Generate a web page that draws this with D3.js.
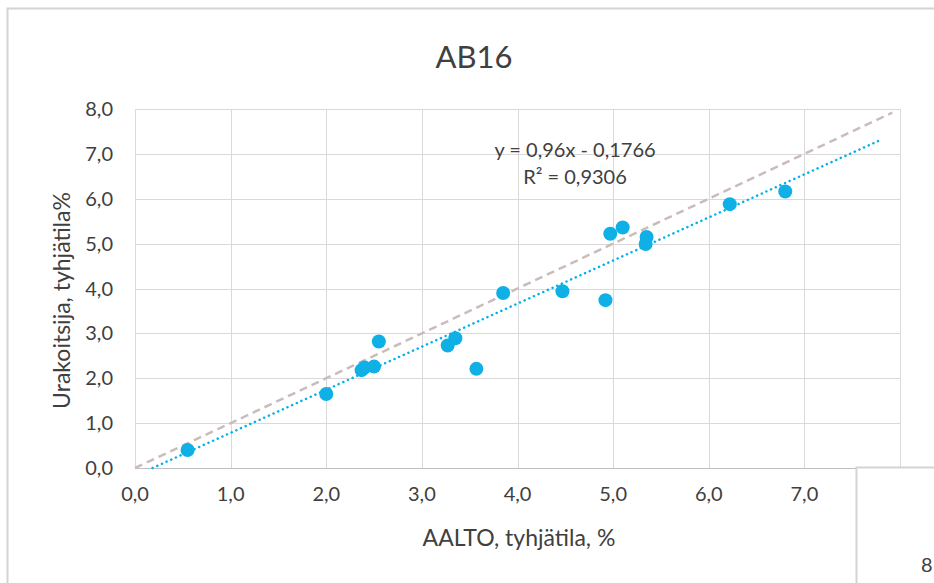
<!DOCTYPE html>
<html>
<head>
<meta charset="utf-8">
<script src="https://cdn.jsdelivr.net/npm/d3@7"></script>
<style>
  body { margin: 0; background: #fff; }
  svg text { font-family: Lato, "Open Sans", sans-serif; fill: #404040; }
</style>
</head>
<body>
<div id="chart"></div>
<script>
// measured points (AALTO vs urakoitsija)
const aalto = [0.55, 2.0, 2.37, 2.4, 2.5, 2.55, 3.27, 3.35, 3.57, 3.85, 4.47, 4.92, 4.97, 5.1, 5.35, 5.34, 6.22, 6.8]
const urakoitsija = [0.4, 1.65, 2.18, 2.24, 2.26, 2.82, 2.73, 2.89, 2.21, 3.9, 3.94, 3.74, 5.22, 5.36, 5.15, 4.99, 5.88, 6.16]
const xTicks = [0, 1, 2, 3, 4, 5, 6, 7, 8]
const yTicks = [0, 1, 2, 3, 4, 5, 6, 7, 8]
const slope = 0.96
const intercept = -0.1766
const trendRange = [0.184, 7.8]
const identityRange = [0, 7.92]
const eqLines = ["y = 0,96x - 0,1766", "R² = 0,9306"]

const width = 934
const height = 583
const margin = { left: 135, right: 34, top: 109, bottom: 115 }

const fmt = d => d.toFixed(1).replace('.', ',')

const x = d3.scaleLinear().domain([0, 8]).range([margin.left, width - margin.right])
const y = d3.scaleLinear().domain([0, 8]).range([height - margin.bottom, margin.top])

const svg = d3.select('#chart').append('svg')
    .attr('width', width)
    .attr('height', height)

// chart frame
svg.append('rect')
    .attr('x', 7.5).attr('y', 8.5)
    .attr('width', 1000).attr('height', 700)
    .attr('fill', '#fff')
    .attr('stroke', '#d4d4d4')
    .attr('stroke-width', 2)

// gridlines
svg.append('g').selectAll('line')
    .data(yTicks)
    .enter().append('line')
    .attr('x1', x(0)).attr('x2', x(8))
    .attr('y1', d => Math.round(y(d)) + 0.5).attr('y2', d => Math.round(y(d)) + 0.5)
    .attr('stroke', d => d === 0 ? '#bfbfbf' : '#d9d9d9')
    .attr('stroke-width', 1)

svg.append('g').selectAll('line')
    .data(xTicks)
    .enter().append('line')
    .attr('y1', y(0)).attr('y2', y(8))
    .attr('x1', d => Math.round(x(d)) + 0.5).attr('x2', d => Math.round(x(d)) + 0.5)
    .attr('stroke', '#d9d9d9')
    .attr('stroke-width', 1)

// tick labels
svg.append('g').selectAll('text')
    .data(yTicks)
    .enter().append('text')
    .attr('x', x(0) - 22)
    .attr('y', d => y(d))
    .attr('dy', '0.35em')
    .attr('text-anchor', 'end')
    .attr('font-size', 20)
    .text(fmt)

svg.append('g').selectAll('text')
    .data(xTicks)
    .enter().append('text')
    .attr('x', d => x(d))
    .attr('y', y(0) + 33)
    .attr('text-anchor', 'middle')
    .attr('font-size', 20)
    .text(fmt)

// 1:1 line
svg.append('line')
    .attr('x1', x(identityRange[0])).attr('y1', y(identityRange[0]))
    .attr('x2', x(identityRange[1])).attr('y2', y(identityRange[1]))
    .attr('stroke', '#cbbcbc')
    .attr('stroke-width', 2.5)
    .attr('stroke-dasharray', '8,5')

// trendline
svg.append('line')
    .attr('x1', x(trendRange[0])).attr('y1', y(slope * trendRange[0] + intercept))
    .attr('x2', x(trendRange[1])).attr('y2', y(slope * trendRange[1] + intercept))
    .attr('stroke', '#00b0f0')
    .attr('stroke-width', 2.5)
    .attr('stroke-linecap', 'round')
    .attr('stroke-dasharray', '0.1,5')

// points
svg.append('g').selectAll('circle')
    .data(aalto.map((d, i) => ({ x: d, y: urakoitsija[i] })))
    .enter().append('circle')
    .attr('cx', d => x(d.x))
    .attr('cy', d => y(d.y))
    .attr('r', 7)
    .attr('fill', '#0fb0e6')

// equation
svg.append('g').selectAll('text')
    .data(eqLines)
    .enter().append('text')
    .attr('x', 575)
    .attr('y', (d, i) => 157 + i * 27)
    .attr('text-anchor', 'middle')
    .attr('font-size', 20)
    .text(d => d)

// title
svg.append('text')
    .attr('x', 474)
    .attr('y', 68)
    .attr('text-anchor', 'middle')
    .attr('font-size', 31)
    .text('AB16')

// axis titles
svg.append('text')
    .attr('x', 519)
    .attr('y', 546)
    .attr('text-anchor', 'middle')
    .attr('font-size', 23)
    .text('AALTO, tyhjätila, %')

svg.append('text')
    .attr('transform', 'translate(70,' + ((y(0) + y(8)) / 2 + 12) + ') rotate(-90)')
    .attr('text-anchor', 'middle')
    .attr('font-size', 23)
    .text('Urakoitsija, tyhjätila%')

// neighbouring chart frame overlapping the corner
svg.append('rect')
    .attr('x', 856.5).attr('y', 467.5)
    .attr('width', 200).attr('height', 200)
    .attr('fill', '#fff')
    .attr('stroke', '#d4d4d4')
    .attr('stroke-width', 2)

svg.append('text')
    .attr('x', 921)
    .attr('y', 572)
    .attr('font-size', 20)
    .text('8')
</script>
</body>
</html>
